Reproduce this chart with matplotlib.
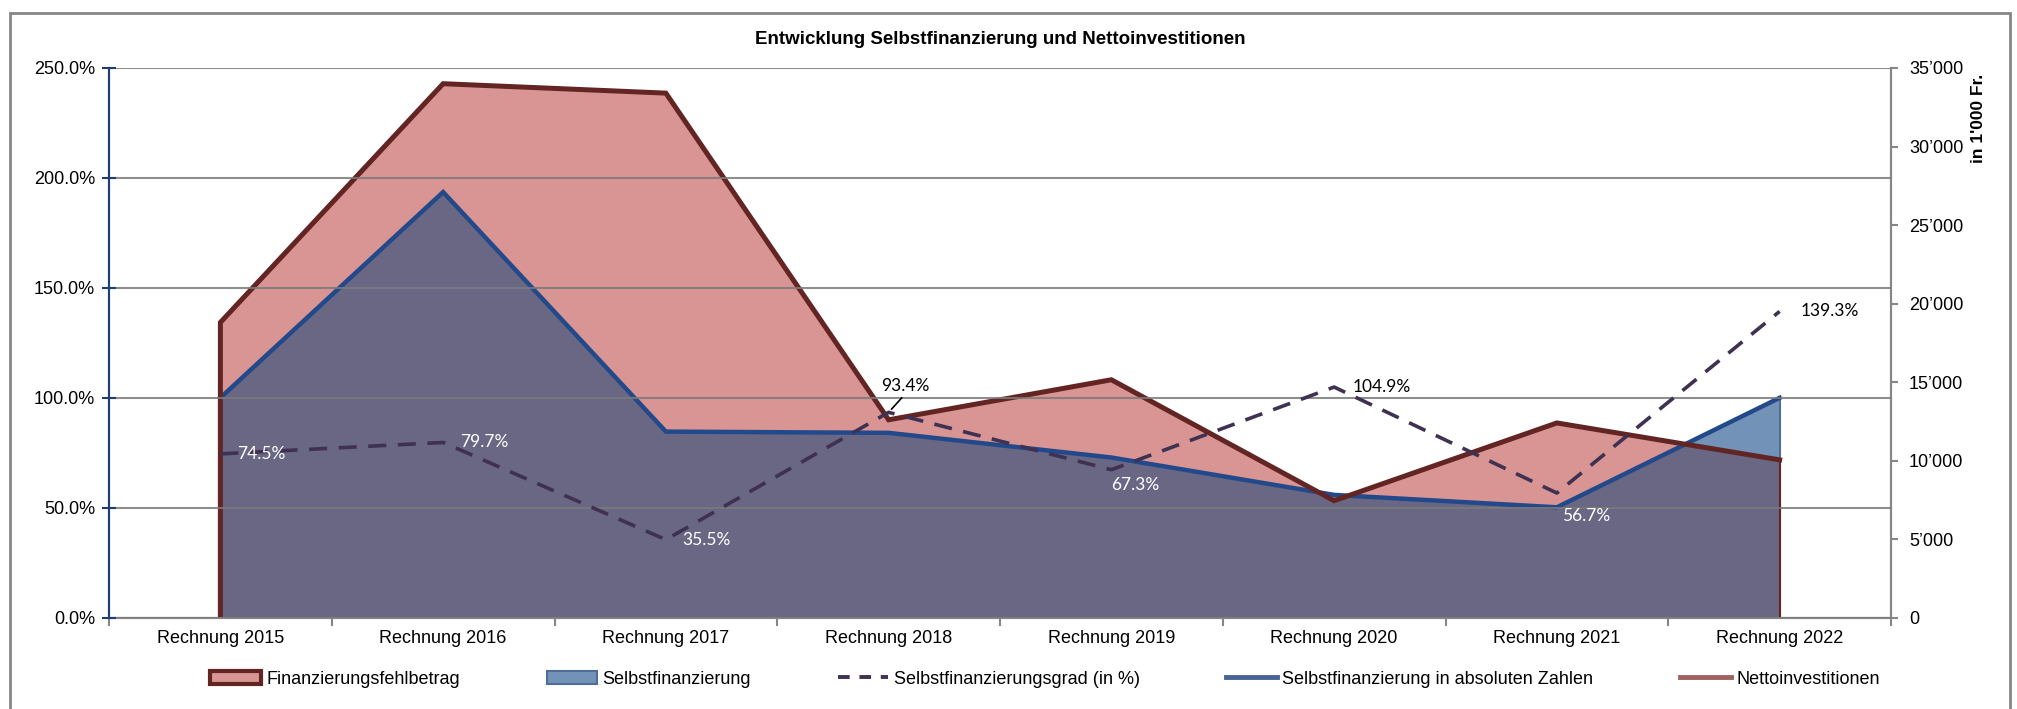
import numpy as np
import matplotlib
matplotlib.use("Agg")
import matplotlib.pyplot as plt
from matplotlib.patches import Rectangle, Polygon, Patch
from matplotlib.lines import Line2D
from matplotlib.ticker import FuncFormatter, MultipleLocator

# Daten (in 1'000 Fr. bzw. %)
jahre = ["Rechnung 2015", "Rechnung 2016", "Rechnung 2017", "Rechnung 2018",
         "Rechnung 2019", "Rechnung 2020", "Rechnung 2021", "Rechnung 2022"]
nettoinvestitionen = [18800, 34000, 33400, 12600, 15150, 7450, 12400, 10050]
selbstfinanzierung = [14000, 27100, 11850, 11770, 10200, 7820, 7030, 14000]
selbstfinanzierungsgrad = [74.5, 79.7, 35.5, 93.4, 67.3, 104.9, 56.7, 139.3]

PINK = "#D99594"
DUNKELROT = "#632523"
BLAU = "#7292B8"
UEBERLAPPUNG = "#6A6785"
NAVY = "#22498A"
LILA = "#3F3151"
GRAU = "#868686"

plt.rcParams["font.family"] = ["Liberation Sans", "DejaVu Sans"]

fig = plt.figure(figsize=(20.17, 7.09), dpi=100)
ax = fig.add_axes([109 / 2017, 1 - 617.7 / 709, (1891 - 109) / 2017, (617.7 - 68) / 709])
ax2 = ax.twinx()
ax.set_zorder(ax2.get_zorder() + 1)
ax.patch.set_visible(False)

x = np.arange(len(jahre))
netto = np.array(nettoinvestitionen)
selbst = np.array(selbstfinanzierung)

# Flaechen (rechte Achse)
ax2.fill_between(x, selbst, color=BLAU, lw=0, zorder=1)
ax2.fill_between(x, netto, color=PINK, lw=0, zorder=2)
ueber = ax2.fill_between(x, selbst, color=UEBERLAPPUNG, lw=0, zorder=3)
netto_poly = Polygon(np.column_stack([np.r_[x, x[::-1]], np.r_[netto, np.zeros_like(netto)]]),
                     transform=ax2.transData)
ueber.set_clip_path(netto_poly)

ax2.plot([x[0], x[-1]], [0, 0], color="#3B3F63", lw=2, zorder=4)
ax2.plot([x[-1], x[-1]], [0, selbst[-1]], color="#4F6D99", lw=1.5, zorder=4)
ax2.plot(x, selbst, color=NAVY, lw=3.2, zorder=5, solid_joinstyle="miter")
ax2.plot([x[-1], x[-1]], [0, netto[-1]], color=DUNKELROT, lw=1.5, zorder=6)
ax2.plot(np.r_[x[0], x], np.r_[0, netto], color=DUNKELROT, lw=3.6, zorder=6,
         solid_joinstyle="miter")

# Selbstfinanzierungsgrad (linke Achse)
ax.plot(x, selbstfinanzierungsgrad, color=LILA, lw=2.6, dashes=(5, 3.2), zorder=5)

label_style = [  # (dx, dy) in Punkten, Ausrichtung, Farbe
    ((12, 0), "left", "white"),
    ((12, 0), "left", "white"),
    ((12, 0), "left", "white"),
    ((12, 19), "center", "black"),
    ((17, -11), "center", "white"),
    ((13, 0), "left", "black"),
    ((21, -16.5), "center", "white"),
    ((15, 0), "left", "black"),
]
for xi, wert, (off, ha, farbe) in zip(x, selbstfinanzierungsgrad, label_style):
    kw = {}
    if off[1] > 0:
        kw["arrowprops"] = dict(arrowstyle="-", color="black", lw=1.2,
                                relpos=(0.5, 0.0), shrinkA=1, shrinkB=3)
    ax.annotate(f"{wert:.1f}%", (xi, wert), xytext=off, textcoords="offset points",
                ha=ha, va="center", color=farbe, fontsize=12.5, family=["Lato", "DejaVu Sans"],
                zorder=7, **kw)

# Achsen
ax.set_xlim(-0.5, len(jahre) - 0.5)
ax.set_ylim(0, 250)
ax2.set_ylim(0, 35000)
ax.yaxis.set_major_locator(MultipleLocator(50))
ax2.yaxis.set_major_locator(MultipleLocator(5000))
ax.yaxis.set_major_formatter(FuncFormatter(lambda v, p: f"{v:.1f}%"))
ax2.yaxis.set_major_formatter(FuncFormatter(lambda v, p: f"{int(v):,}".replace(",", "\u2019")))

ax.set_xticks(x)
ax.set_xticklabels(jahre)
ax.set_xticks(np.arange(-0.5, len(jahre)), minor=True)
ax.tick_params(axis="x", which="major", length=0, pad=9, labelsize=13)
ax.tick_params(axis="x", which="minor", length=6, color=GRAU, width=1.5)
ax.tick_params(axis="y", length=10, direction="inout", color="#1F3F73", width=1.5,
               labelsize=13, pad=5)
ax2.tick_params(axis="y", length=5, color=GRAU, width=1.5, labelsize=13, pad=8)

ax.yaxis.grid(True, color="#7a7a7a", lw=1.5, alpha=0.85)
ax.set_axisbelow(False)

for a in (ax, ax2):
    a.spines["top"].set_visible(False)
    a.spines["bottom"].set_color(GRAU)
    a.spines["bottom"].set_linewidth(1.5)
    a.spines["right"].set_color(GRAU)
    a.spines["right"].set_linewidth(1.5)
    a.spines["left"].set_color("#1F3F73")
    a.spines["left"].set_linewidth(1.5)

fig.text(1000 / 2017, 1 - 39 / 709, "Entwicklung Selbstfinanzierung und Nettoinvestitionen",
         ha="center", va="center", fontsize=13.5, fontweight="bold")
fig.text(1978 / 2017, 1 - 118 / 709, "in 1'000 Fr.", rotation=90, ha="center", va="center",
         fontsize=12.5, fontweight="bold")

# Legende
handles = [
    Patch(facecolor=PINK, edgecolor=DUNKELROT, lw=3),
    Patch(facecolor=BLAU, edgecolor="#4F6D99", lw=1.5),
    Line2D([], [], color=LILA, lw=2.8, dashes=(3, 2.5)),
    Line2D([], [], color="#4A6396", lw=3.5),
    Line2D([], [], color="#A0625F", lw=3.5),
]
labels = ["Finanzierungsfehlbetrag", "Selbstfinanzierung", "Selbstfinanzierungsgrad (in %)",
          "Selbstfinanzierung in absoluten Zahlen", "Nettoinvestitionen"]
fig.legend(handles, labels, loc="center", bbox_to_anchor=(1045 / 2017, 1 - 679 / 709),
           ncol=5, frameon=False, fontsize=13, handlelength=2.8, handleheight=0.75,
           handletextpad=0.3, columnspacing=4.8)

fig.add_artist(Rectangle((10 / 2017, -0.05), (2010 - 10) / 2017, (709 - 13) / 709 + 0.05,
                         transform=fig.transFigure, fill=False, edgecolor=GRAU, lw=2))

fig.savefig("out.png", dpi=100)
